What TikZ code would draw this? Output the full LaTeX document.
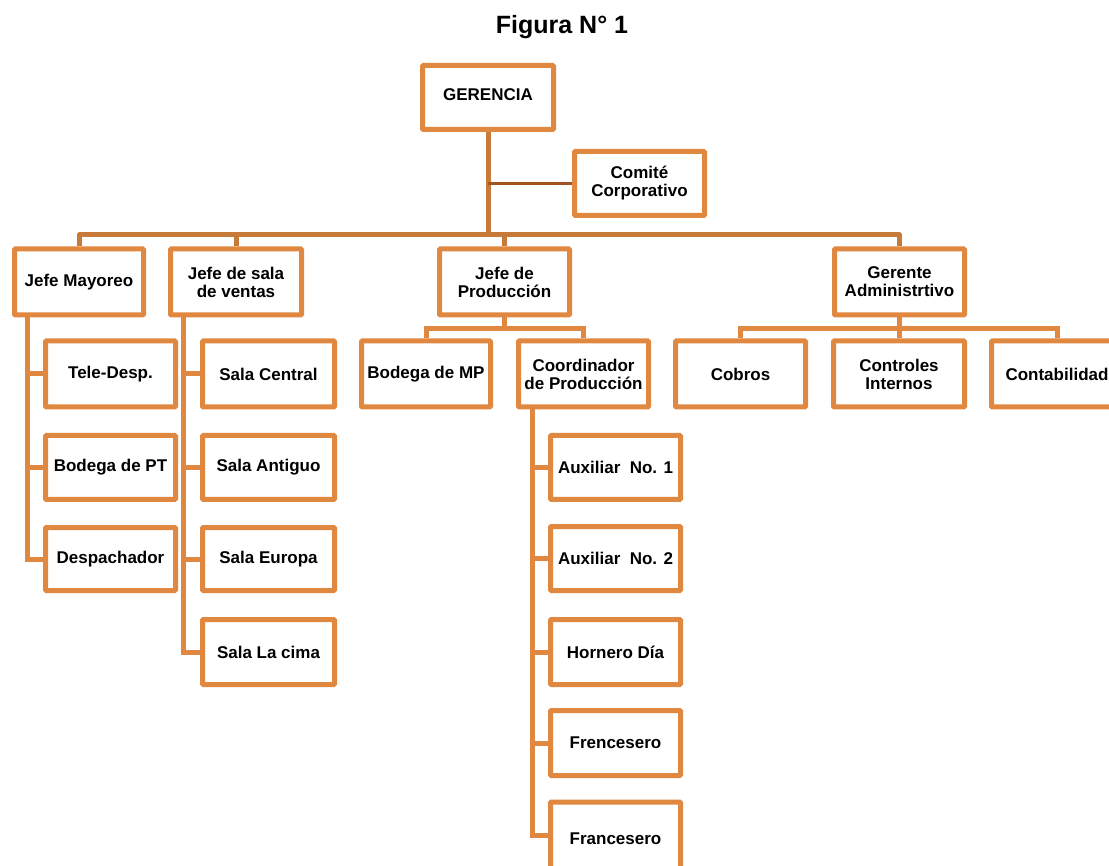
\documentclass[tikz,border=0pt]{standalone}
\usepackage{fontspec}
\setmainfont{Liberation Sans}
\definecolor{boxc}{RGB}{224,136,64}
\definecolor{busc}{RGB}{200,122,58}
\definecolor{comc}{RGB}{164,84,30}
\tikzset{
  box/.style={draw=boxc, line width=5pt, fill=white, rounded corners=1pt, inner sep=0pt,
    minimum width=130pt, minimum height=66pt, align=center,
    font=\fontsize{17}{18}\selectfont\bfseries},
  busline/.style={draw=busc, line width=5pt},
  subline/.style={draw=boxc, line width=5pt},
  comline/.style={draw=comc, line width=3.5pt},
  titlefont/.style={font=\fontsize{25}{30}\selectfont\bfseries}
}
\begin{document}
\begin{tikzpicture}[x=1pt,y=-1pt]
\clip (0,0) rectangle (1109,866);
\fill[white] (0,0) rectangle (1109,866);
\node[titlefont] (title) at (562,27) {Figura N° 1};
\coordinate (busy) at (0,235);
\coordinate (py) at (0,329);
\coordinate (jmx) at (27,0);
\coordinate (jsx) at (183,0);
\coordinate (cox) at (532,0);
% level 1
\node[box, minimum width=131pt, minimum height=64pt] (ger) at (488,97.5) {\raisebox{6pt}{GERENCIA}};
\node[box, minimum height=64pt] (com) at (639.5,183.5) {Comité\\Corporativo};
% level 2
\node[box, minimum width=129pt] (jm) at (79,282) {Jefe Mayoreo};
\node[box, minimum width=131pt] (js) at (236,282) {Jefe de sala\\de ventas};
\node[box] (jp) at (504.5,282) {Jefe de\\Producción};
\node[box] (ga) at (899.5,282) {Gerente\\Administrtivo};
% level 3
\node[box] (tele) at (110.5,374) {Tele-Desp.};
\node[box, minimum width=132pt] (salac) at (268.5,374) {Sala Central};
\node[box, minimum width=129pt] (bmp) at (426,374) {Bodega de MP};
\node[box] (coord) at (583.5,374) {Coordinador\\de Producción};
\node[box] (cobros) at (740.5,374) {Cobros};
\node[box, minimum width=131pt] (ctrl) at (899,374) {Controles\\Internos};
\node[box, minimum width=131pt] (conta) at (1057,374) {Contabilidad};
% left columns
\node[box, minimum height=64pt] (bpt) at (110.5,467.5) {Bodega de PT};
\node[box, minimum height=63pt] (desp) at (110.5,559) {Despachador};
\node[box, minimum width=132pt, minimum height=64pt] (sant) at (268.5,467.5) {Sala Antiguo};
\node[box, minimum width=132pt, minimum height=63pt] (seur) at (268.5,559) {Sala Europa};
\node[box, minimum width=132pt, minimum height=65pt] (scima) at (268.5,652) {Sala La cima};
% coordinator column
\node[box, minimum height=64pt] (aux1) at (615.5,467.5) {Auxiliar~ No. 1};
\node[box, minimum height=64pt] (aux2) at (615.5,558.5) {Auxiliar~ No. 2};
\node[box, minimum height=65pt] (horn) at (615.5,652) {Hornero Día};
\node[box, minimum height=65pt] (fren) at (615.5,743) {Frencesero};
\node[box, minimum height=80pt] (fran) at (615.5,842) {\raisebox{7pt}{Francesero}};
% connectors
\draw[busline] (ger.south) -- (ger.south |- busy);
\draw[comline] (ger.south |- com.west) -- (com.west);
\draw[busline, line join=round] (jm.north) -- (jm.north |- busy) -- (ga.north |- busy) -- (ga.north);
\draw[busline] (js.north) -- (js.north |- busy);
\draw[busline] (jp.north) -- (jp.north |- busy);
\draw[subline] (jp.south) -- (jp.south |- py);
\draw[subline] (bmp.north) -- (bmp.north |- py) -- (coord.north |- py) -- (coord.north);
\draw[subline] (ga.south) -- (ga.south |- py);
\draw[subline] (cobros.north) -- (cobros.north |- py) -- (conta.north |- py) -- (conta.north);
\draw[subline] (ctrl.north) -- (ctrl.north |- py);
\draw[subline] (jm.south -| jmx) -- (jmx |- desp.west) -- (desp.west);
\draw[subline] (jmx |- tele.west) -- (tele.west);
\draw[subline] (jmx |- bpt.west) -- (bpt.west);
\draw[subline] (js.south -| jsx) -- (jsx |- scima.west) -- (scima.west);
\draw[subline] (jsx |- salac.west) -- (salac.west);
\draw[subline] (jsx |- sant.west) -- (sant.west);
\draw[subline] (jsx |- seur.west) -- (seur.west);
\coordinate (franline) at (0,835);
\draw[subline] (coord.south -| cox) -- (cox |- franline) -- (fran.west |- franline);
\draw[subline] (cox |- aux1.west) -- (aux1.west);
\draw[subline] (cox |- aux2.west) -- (aux2.west);
\draw[subline] (cox |- horn.west) -- (horn.west);
\draw[subline] (cox |- fren.west) -- (fren.west);
\end{tikzpicture}
\end{document}
